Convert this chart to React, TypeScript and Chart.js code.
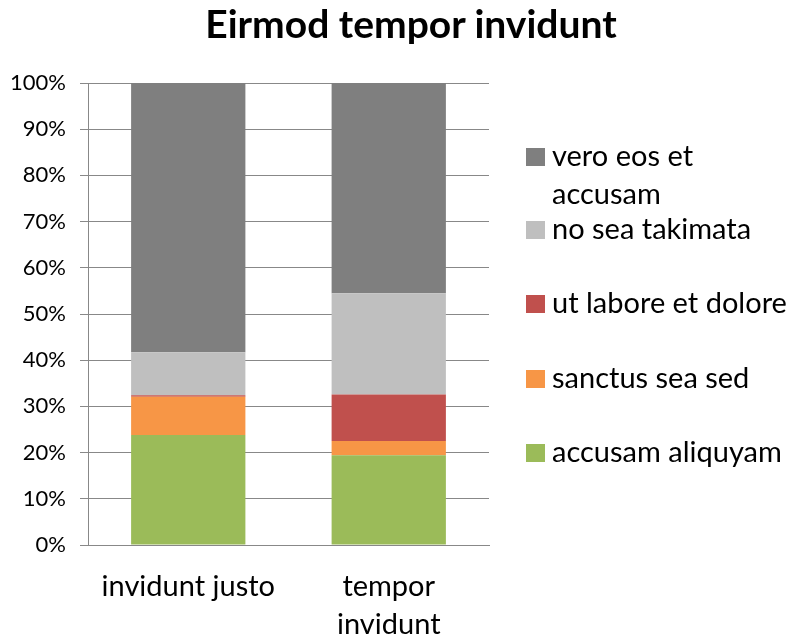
import React, { useEffect, useRef } from "react";
import { Chart, registerables } from "chart.js";

Chart.register(...registerables);

const categories: (string | string[])[] = ["invidunt justo", ["tempor", "invidunt"]];
const seriesNames = ["accusam aliquyam", "sanctus sea sed", "ut labore et dolore", "no sea takimata", "vero eos et accusam"];
const accusamAliquyam = [23.8, 19.4];
const sanctusSeaSed = [8.3, 3.1];
const utLaboreEtDolore = [0.3, 10.1];
const noSeaTakimata = [9.3, 21.9];
const veroEosEtAccusam = [58.3, 45.5];
const seriesColors = ["#9BBB59", "#F79646", "#C0504D", "#BFBFBF", "#7F7F7F"];
const yTicks = [0, 10, 20, 30, 40, 50, 60, 70, 80, 90, 100];
const title = "Eirmod tempor invidunt";

const FONT = "Lato, 'Open Sans', sans-serif";

export default function App() {
  const ref = useRef<HTMLCanvasElement | null>(null);
  useEffect(() => {
    document.body.style.margin = "0";
    const values = [accusamAliquyam, sanctusSeaSed, utLaboreEtDolore, noSeaTakimata, veroEosEtAccusam];
    const chart = new Chart(ref.current!, {
      type: "bar",
      data: {
        labels: categories,
        datasets: seriesNames.map((n, i) => ({
          label: n,
          data: values[i],
          backgroundColor: seriesColors[i],
          borderWidth: 0,
          barPercentage: 0.57,
          categoryPercentage: 1,
        })),
      },
      options: {
        responsive: false,
        animation: false,
        layout: { padding: { top: 83, right: 303, left: 0, bottom: 0 } },
        plugins: { legend: { display: false }, title: { display: false }, tooltip: { enabled: false } },
        scales: {
          x: {
            stacked: true,
            grid: { display: false },
            border: { display: true, color: "#888888", width: 1 },
            ticks: { color: "#000", font: { family: FONT, size: 29, lineHeight: 1.3 }, padding: 15, maxRotation: 0 },
            afterFit: (s: any) => { s.height = 92; },
          },
          y: {
            stacked: true,
            min: 0,
            max: 100,
            afterBuildTicks: (s: any) => { s.ticks = yTicks.map((v) => ({ value: v })); },
            grid: { color: "#888888", lineWidth: 1, drawTicks: true, tickLength: 8, tickColor: "#888888" },
            border: { display: true, color: "#888888", width: 1 },
            ticks: { color: "#000", font: { family: FONT, size: 22 }, padding: 14, callback: (v: any) => v + "%" },
            afterFit: (s: any) => { s.width = 88; },
          },
        },
      },
    });
    return () => chart.destroy();
  }, []);

  const legendItems = [4, 3, 2, 1, 0];
  const baselines = [166, 239, 313, 388, 462];
  return (
    <div style={{ position: "relative", width: 792, height: 637, fontFamily: FONT }}>
      <canvas ref={ref} width={792} height={637} style={{ display: "block" }} />
      <div style={{ position: "absolute", left: 0, width: 822, top: 1, textAlign: "center", fontWeight: 700, fontSize: 39, lineHeight: "44px", color: "#000", whiteSpace: "nowrap" }}>
        {title}
      </div>
      {legendItems.map((idx, k) => (
        <React.Fragment key={idx}>
          <div style={{ position: "absolute", left: 526, top: baselines[k] - 18, width: 19, height: 18, background: seriesColors[idx] }} />
          <div style={{ position: "absolute", left: 552, top: baselines[k] - 30, fontSize: 29, lineHeight: "38px", width: 240, color: "#000", whiteSpace: "nowrap" }}>
            {idx === 4 ? (<>vero eos et<br />accusam</>) : seriesNames[idx]}
          </div>
        </React.Fragment>
      ))}
    </div>
  );
}
